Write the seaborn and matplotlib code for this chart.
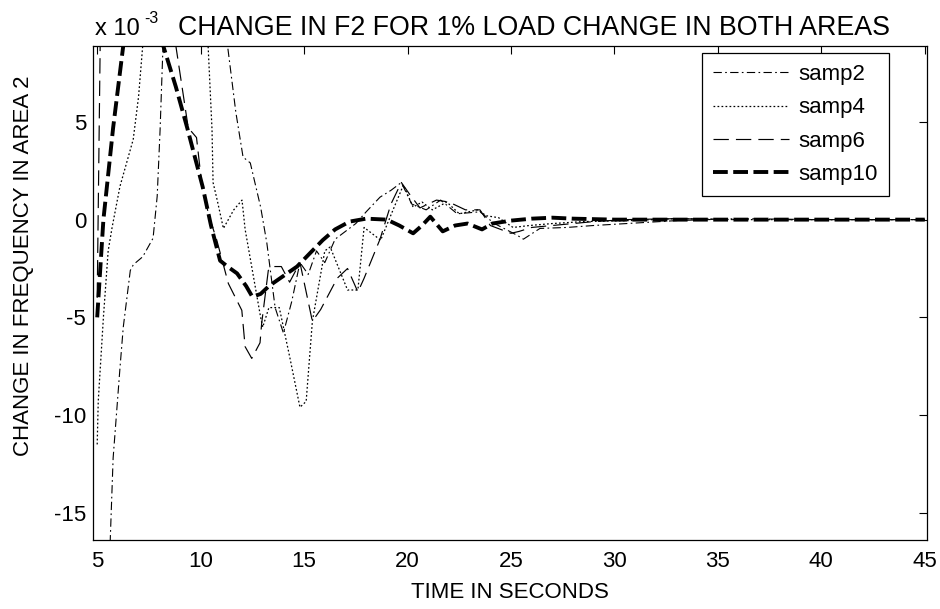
import matplotlib
matplotlib.use("Agg")
import matplotlib.pyplot as plt
import seaborn as sns
import pandas as pd

# Frequency deviation of area 2 (units of 1e-3) for several sampling periods
t_samp2 = [5.0, 5.63, 5.77, 6.1, 6.26, 6.6, 6.75, 7.2, 7.7, 7.9, 8.04, 8.2, 8.8, 9.6,
           10.4, 11.0, 11.3, 11.7, 12.05, 12.4, 12.9, 13.2, 13.6, 14.0, 14.4, 14.8,
           15.2, 15.6, 16.0, 16.5, 17.0, 17.5, 18.0, 18.67, 19.2, 19.7, 20.2, 20.9,
           21.6, 22.4, 23.5, 24.2, 25.3, 25.6, 26.4, 27.7, 29.0, 30.6, 33.0, 36.0,
           40.0, 45.0]
f_samp2 = [-32.0, -16.4, -12.2, -7.6, -5.5, -2.6, -2.3, -1.9, -0.95, 1.2, 4.6, 9.5,
           17.0, 21.0, 19.0, 12.0, 8.9, 5.5, 3.2, 2.9, 0.64, -1.2, -4.5, -5.8, -4.2,
           -2.2, -2.8, -1.6, -2.2, -1.0, -0.6, -0.2, 0.4, 1.15, 1.5, 1.9, 0.8, 0.5,
           1.0, 0.3, 0.4, -0.2, -0.8, -1.0, -0.45, -0.4, -0.3, -0.2, -0.05, 0.05,
           0.0, 0.0]

t_samp4 = [5.0, 5.05, 5.3, 5.53, 5.72, 6.1, 6.74, 7.0, 7.2, 7.8, 8.6, 9.4, 10.0,
           10.36, 10.55, 10.6, 10.8, 11.1, 11.6, 12.0, 12.15, 12.9, 13.0, 13.3, 13.8,
           14.3, 14.8, 15.1, 15.4, 16.0, 16.26, 17.1, 17.6, 17.9, 18.7, 19.3, 19.8,
           20.27, 20.7, 21.2, 21.9, 22.5, 23.4, 23.8, 24.4, 25.1, 25.9, 27.0, 28.5,
           30.7, 33.0, 36.0, 40.0, 45.0]
f_samp4 = [-11.5, -9.3, -5.0, -1.6, -0.4, 1.7, 4.1, 6.3, 8.9, 13.5, 15.5, 14.5, 11.5,
           8.9, 4.6, 1.9, 1.0, -0.45, 0.5, 1.0, -0.5, -5.0, -5.5, -4.5, -4.5, -7.0,
           -9.6, -9.3, -5.2, -1.6, -1.4, -3.6, -3.6, -0.4, -1.05, 0.5, 1.77, 0.64,
           0.9, 0.5, 0.9, 0.3, 0.5, 0.2, 0.1, -0.4, -0.3, -0.2, -0.1, -0.05, 0.05,
           0.0, 0.0, 0.0]

t_samp6 = [5.0, 5.15, 5.6, 6.4, 7.4, 8.2, 8.8, 9.4, 9.8, 10.07, 10.4, 10.78, 11.34,
           11.99, 12.15, 12.47, 12.87, 12.95, 13.27, 13.44, 13.9, 14.3, 14.8, 15.4,
           15.8, 16.2, 16.6, 17.1, 17.6, 17.9, 18.67, 19.2, 19.7, 20.1, 20.6, 21.4,
           22.0, 22.8, 23.5, 24.0, 25.0, 25.4, 26.0, 27.0, 28.0, 29.0, 30.5, 33.0,
           36.0, 40.0, 45.0]
f_samp6 = [-4.0, 9.5, 16.0, 19.0, 18.0, 13.5, 8.9, 4.7, 4.2, 1.67, 0.2, -1.05, -3.27,
           -4.64, -6.5, -7.1, -6.3, -5.3, -2.6, -2.4, -2.4, -3.2, -2.2, -5.2, -4.6,
           -3.8, -3.0, -2.5, -3.7, -3.0, -1.0, 0.8, 1.9, 1.3, 0.6, 1.0, 0.9, 0.5, 0.5,
           -0.3, -0.7, -0.6, -0.4, -0.3, -0.2, -0.1, 0.0, 0.05, 0.0, 0.0, 0.0]

t_samp10 = [5.0, 5.3, 5.77, 6.26, 6.8, 7.3, 7.8, 8.19, 8.8, 9.35, 10.1, 10.5, 10.94,
            11.3, 11.76, 12.2, 12.5, 12.9, 13.3, 13.84, 14.66, 15.3, 15.9, 16.5, 17.2,
            18.0, 19.0, 19.6, 20.27, 20.7, 21.1, 21.7, 22.3, 22.9, 23.6, 24.1, 25.0,
            26.0, 27.0, 28.0, 30.0, 35.0, 40.0, 45.0]
f_samp10 = [-5.0, 0.0, 4.7, 8.9, 11.5, 12.3, 11.0, 8.9, 6.8, 4.7, 1.67, -0.3, -2.1,
            -2.4, -2.75, -3.4, -3.95, -3.8, -3.4, -3.0, -2.4, -1.7, -1.05, -0.5, -0.1,
            0.05, 0.0, -0.3, -0.7, -0.3, 0.15, -0.6, -0.3, -0.2, -0.5, -0.2, -0.05,
            0.05, 0.1, 0.05, 0.0, 0.0, 0.0, 0.0]

x_ticks = [5, 10, 15, 20, 25, 30, 35, 40, 45]
y_ticks = [5, 0, -5, -10, -15]

series = [
    ("samp2", t_samp2, f_samp2, dict(linestyle=(0, (7.5, 3, 1.5, 3)), linewidth=0.8)),
    ("samp4", t_samp4, f_samp4, dict(linestyle=(0, (1.4, 1.8)), linewidth=0.9)),
    ("samp6", t_samp6, f_samp6, dict(linestyle=(0, (13, 6)), linewidth=0.85)),
    ("samp10", t_samp10, f_samp10, dict(linestyle=(0, (3.8, 1.4)), linewidth=2.8)),
]

sns.set_style("white")
plt.rcParams["font.family"] = ["Liberation Sans", "DejaVu Sans"]
plt.rcParams["axes.unicode_minus"] = False
plt.rcParams["text.color"] = "black"
plt.rcParams["axes.labelcolor"] = "black"

fig = plt.figure(figsize=(9.4, 6.09), dpi=100)
ax = fig.add_axes([0.099, 0.113, 0.887, 0.812])

for name, t, f, style in series:
    df = pd.DataFrame({"t": t, "f": f})
    sns.lineplot(data=df, x="t", y="f", ax=ax, color="black", label=name,
                 estimator=None, sort=False, **style)

ax.set_xlim(4.8, 45.1)
ax.set_ylim(-16.4, 8.9)
ax.set_xticks(x_ticks)
ax.set_yticks(y_ticks)
ax.set_xticklabels([str(v) for v in x_ticks])
ax.set_yticklabels([str(v) for v in y_ticks])
ax.tick_params(direction="in", length=6, width=0.8, top=True, right=True,
               labelsize=16, colors="black")
ax.tick_params(axis="x", pad=8)
ax.tick_params(axis="y", pad=5)
for sp in ax.spines.values():
    sp.set_color("black")
    sp.set_linewidth(0.9)

ax.set_xlabel("TIME IN SECONDS", fontsize=16, color="black")
ax.set_ylabel("CHANGE IN FREQUENCY IN AREA 2", fontsize=16, color="black")
ax.xaxis.set_label_coords(0.5, -0.085)
ax.yaxis.set_label_coords(-0.071, 0.555)

# exponent label for the y axis and the plot title
fig.text(0.101, 0.9425, "x 10", fontsize=17, ha="left", va="baseline", color="black")
fig.text(0.153, 0.962, "-3", fontsize=11.5, ha="left", va="baseline", color="black")
fig.text(0.1895, 0.9425, "CHANGE IN F2 FOR 1% LOAD CHANGE IN BOTH AREAS",
         fontsize=19.3, ha="left", va="baseline", color="black")

leg = ax.legend(loc="upper right", bbox_to_anchor=(0.955, 0.985), fontsize=16,
                handlelength=3.4, handletextpad=0.45, labelspacing=0.55,
                borderpad=0.5, borderaxespad=0.0, fancybox=False, framealpha=1,
                edgecolor="black")
leg.get_frame().set_linewidth(0.9)
for txt in leg.get_texts():
    txt.set_color("black")

fig.savefig("out.png", dpi=100, facecolor="white")
